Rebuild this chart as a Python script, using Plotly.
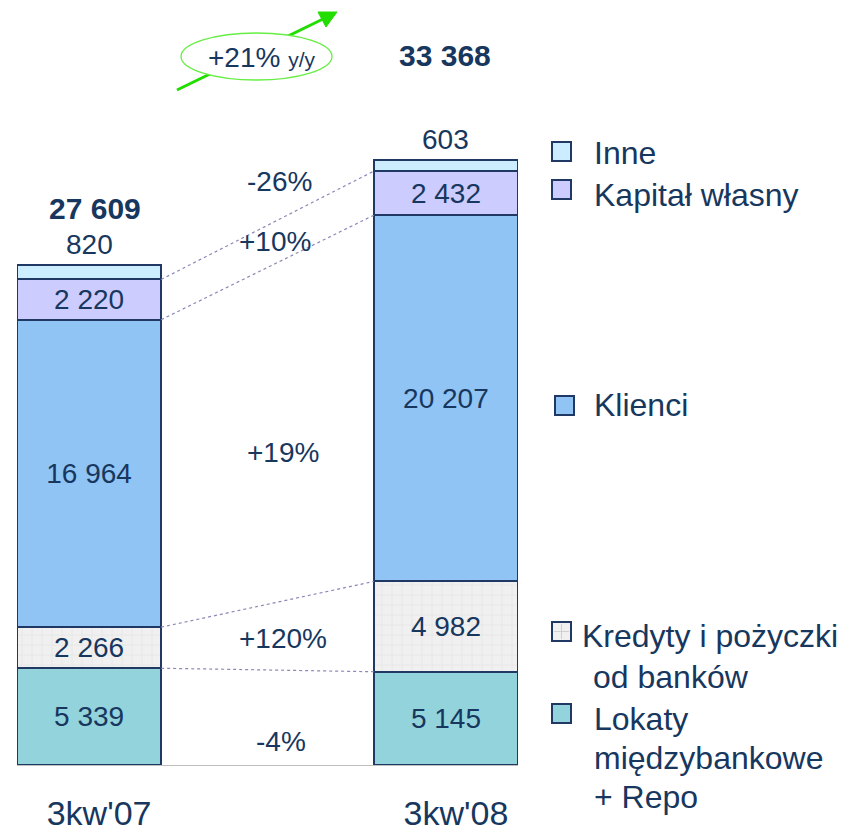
import plotly.graph_objects as go

# ---------------- data ----------------
categories = ["3kw'07", "3kw'08"]
lokaty = [5339, 5145]
kredyty = [2266, 4982]
klienci = [16964, 20207]
kapital = [2220, 2432]
inne = [820, 603]
totals = [27609, 33368]
changes = ["-4%", "+120%", "+19%", "+10%", "-26%"]  # bottom -> top
growth = "+21%"
growth_unit = "y/y"

series = [
    ("Lokaty międzybankowe + Repo", lokaty),
    ("Kredyty i pożyczki od banków", kredyty),
    ("Klienci", klienci),
    ("Kapitał własny", kapital),
    ("Inne", inne),
]

# ---------------- style ----------------
NAVY = "#17375E"
EDGE = "#1F3864"
FONT = "Liberation Sans, Arial, sans-serif"
colors = ["#93D3DC", "#F0F0F0", "#90C4F4", "#CCCCFF", "#CCECFF"]
BAR_W = 0.404

OFF = 8                      # page body margin
W, H = 855, 823
L, T, PW, PH = 17, 40, 501, 725   # plot area in page (reference) pixels


def px(x):
    return (x - L) / PW


def py(y):
    return (T + PH - y) / PH


def fmt(v):
    return f"{v:,}".replace(",", " ")


xs = list(range(len(categories)))
fig = go.Figure()

for i, (name, vals) in enumerate(series):
    marker = dict(color=colors[i], line=dict(color=EDGE, width=2))
    if i == 1:
        marker["pattern"] = dict(shape="+", fgcolor="#D6D6D6", bgcolor="#F0F0F0",
                                 size=10, solidity=0.12)
    show_text = name != "Inne"
    fig.add_trace(go.Bar(
        x=xs, y=vals, name=name, width=BAR_W, marker=marker,
        text=[fmt(v) for v in vals] if show_text else None,
        textposition="inside" if show_text else "none",
        insidetextanchor="middle", constraintext="none",
        textfont=dict(size=28, color=NAVY, family=FONT),
        hoverinfo="skip", showlegend=False,
    ))

# cumulative tops
cum = []
run = [0] * len(categories)
for _, vals in series:
    run = [r + v for r, v in zip(run, vals)]
    cum.append(list(run))

shapes = []
# dotted connectors between bars (tops of first four segments)
for k in range(4):
    shapes.append(dict(type="line", xref="x", yref="y",
                       x0=xs[0] + BAR_W / 2, x1=xs[1] - BAR_W / 2,
                       y0=cum[k][0], y1=cum[k][1],
                       line=dict(color="#8A88B8", width=1.2, dash="dot")))

# growth arrow + ellipse
GREEN = "#22DD00"
shapes.append(dict(type="line", xref="paper", yref="paper",
                   x0=px(177), y0=py(90), x1=px(323), y1=py(19),
                   line=dict(color=GREEN, width=3)))
shapes.append(dict(type="path", xref="paper", yref="paper",
                   path=f"M {px(337)} {py(12)} L {px(318)} {py(12)} L {px(326)} {py(27)} Z",
                   fillcolor=GREEN, line=dict(color=GREEN, width=1)))
shapes.append(dict(type="circle", xref="paper", yref="paper",
                   x0=px(181), x1=px(332), y0=py(80), y1=py(33),
                   fillcolor="white", line=dict(color="#66EE44", width=1.3)))

annotations = []
# Inne labels above bars
for i in xs:
    annotations.append(dict(x=i, y=cum[-1][i], xref="x", yref="y", text=fmt(inne[i]),
                            showarrow=False, xanchor="center", yanchor="bottom", yshift=3,
                            font=dict(size=28, color=NAVY, family=FONT)))
# totals
total_pos = [(95, 209), (445, 55)]
for i, (tx, ty) in enumerate(total_pos):
    annotations.append(dict(x=px(tx), y=py(ty), xref="paper", yref="paper",
                            text=f"<b>{fmt(totals[i])}</b>", showarrow=False,
                            xanchor="center", yanchor="middle",
                            font=dict(size=30, color=NAVY, family=FONT)))
# change labels
change_pos = [(281, 741), (283, 638), (283, 452), (275, 242), (279, 181)]
for txt, (cx, cy) in zip(changes, change_pos):
    annotations.append(dict(x=px(cx), y=py(cy), xref="paper", yref="paper",
                            text=txt, showarrow=False, xanchor="center", yanchor="middle",
                            font=dict(size=28, color=NAVY, family=FONT)))
# growth text
annotations.append(dict(x=px(262), y=py(57), xref="paper", yref="paper",
                        text=f"{growth} <span style='font-size:21px'>{growth_unit}</span>",
                        showarrow=False, xanchor="center", yanchor="middle",
                        font=dict(size=28, color=NAVY, family=FONT)))

# custom legend
legend_items = [
    (4, 552, 142, [("Inne", 592, 153)]),
    (3, 552, 180, [("Kapitał własny", 592, 195)]),
    (2, 555, 396, [("Klienci", 592, 405)]),
    (1, 552, 622, [("Kredyty i pożyczki", 580, 636), ("od banków", 591, 677)]),
    (0, 552, 704, [("Lokaty", 592, 719), ("międzybankowe", 592, 758), ("+ Repo", 592, 797)]),
]
for idx, sx, sy, lines in legend_items:
    shapes.append(dict(type="rect", xref="paper", yref="paper",
                       x0=px(sx), x1=px(sx + 19), y0=py(sy), y1=py(sy + 19),
                       fillcolor=colors[idx], line=dict(color=EDGE, width=2)))
    if idx == 1:
        shapes.append(dict(type="line", xref="paper", yref="paper",
                           x0=px(sx + 9.5), x1=px(sx + 9.5), y0=py(sy + 2), y1=py(sy + 17),
                           line=dict(color="#D0D0D0", width=1)))
        shapes.append(dict(type="line", xref="paper", yref="paper",
                           x0=px(sx + 2), x1=px(sx + 17), y0=py(sy + 9.5), y1=py(sy + 9.5),
                           line=dict(color="#D0D0D0", width=1)))
    for txt, tx, ty in lines:
        annotations.append(dict(x=px(tx), y=py(ty), xref="paper", yref="paper",
                                text=txt, showarrow=False, xanchor="left", yanchor="middle",
                                font=dict(size=32, color=NAVY, family=FONT)))

fig.update_layout(
    width=W, height=H,
    margin=dict(l=L - OFF, r=W - (L - OFF) - PW, t=T - OFF, b=H - (T - OFF) - PH,
                autoexpand=False),
    barmode="stack",
    paper_bgcolor="white", plot_bgcolor="white",
    font=dict(family=FONT, color=NAVY),
    shapes=shapes, annotations=annotations,
    showlegend=False,
    xaxis=dict(range=[-BAR_W / 2, 1 + BAR_W / 2], tickvals=xs, ticktext=categories,
               showline=True, linecolor="#C0C0C0", linewidth=1, ticks="",
               showgrid=False, zeroline=False, fixedrange=True,
               tickfont=dict(size=34, color=NAVY, family=FONT),
               ticklabelstandoff=18, ticklabelshift=10, automargin=False),
    yaxis=dict(range=[0, 40000], visible=False, showgrid=False, zeroline=False,
               fixedrange=True, automargin=False),
)

fig.write_html("out.html", config={"displayModeBar": False})
